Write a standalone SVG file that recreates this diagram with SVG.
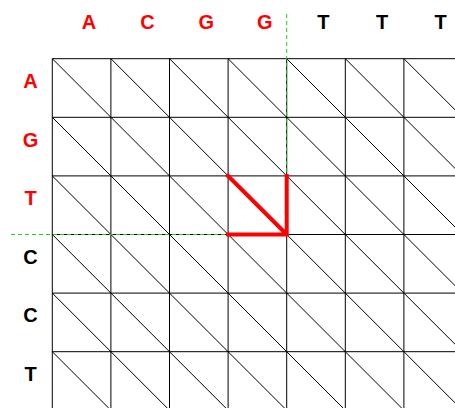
<svg xmlns="http://www.w3.org/2000/svg" width="455" height="408" viewBox="0 0 455 408">
<style>
.grid{stroke:#000;stroke-width:1;fill:none}
.guide{stroke:#22cc22;stroke-width:1;stroke-dasharray:4 3;fill:none}
.path{stroke:#ff0000;stroke-width:4;fill:none;stroke-linejoin:miter;stroke-linecap:square}
text{font-family:"Liberation Sans",Arial,sans-serif;font-weight:bold;font-size:20px;text-anchor:middle}
.hit{fill:#ff0000}
.miss{fill:#000}
</style>
<rect width="455" height="408" fill="#fff"/>
<g id="grid" class="grid">
<path d="M52.3 58.7V408M110.9 58.7V408M169.5 58.7V408M228.1 58.7V408M286.7 58.7V408M345.3 58.7V408M403.9 58.7V408"/>
<path d="M52.3 58.7H455M52.3 117.3H455M52.3 175.9H455M52.3 234.5H455M52.3 293.1H455M52.3 351.7H455"/>
<path d="M52.3 58.7l400 400M110.9 58.7l400 400M169.5 58.7l400 400M228.1 58.7l400 400M286.7 58.7l400 400M345.3 58.7l400 400M403.9 58.7l400 400M52.3 117.3l400 400M52.3 175.9l400 400M52.3 234.5l400 400M52.3 293.1l400 400M52.3 351.7l400 400"/>
</g>
<g id="guides" class="guide">
<path d="M286.7 14V234.5"/>
<path d="M11 234.5H286.7"/>
</g>
<g id="alignment" class="path">
<path d="M228.1 175.9L286.7 234.5M286.7 175.9V234.5H228.1"/>
</g>
<g id="top-labels">
<text class="hit" x="89" y="29">A</text>
<text class="hit" x="147.6" y="29">C</text>
<text class="hit" x="206.2" y="29">G</text>
<text class="hit" x="264.8" y="29">G</text>
<text class="miss" x="323.4" y="29">T</text>
<text class="miss" x="382" y="29">T</text>
<text class="miss" x="440.6" y="29">T</text>
</g>
<g id="left-labels">
<text class="hit" x="30.5" y="88">A</text>
<text class="hit" x="30.5" y="146.6">G</text>
<text class="hit" x="30.5" y="205.2">T</text>
<text class="miss" x="30.5" y="263.8">C</text>
<text class="miss" x="30.5" y="322.4">C</text>
<text class="miss" x="30.5" y="381">T</text>
</g>
</svg>
